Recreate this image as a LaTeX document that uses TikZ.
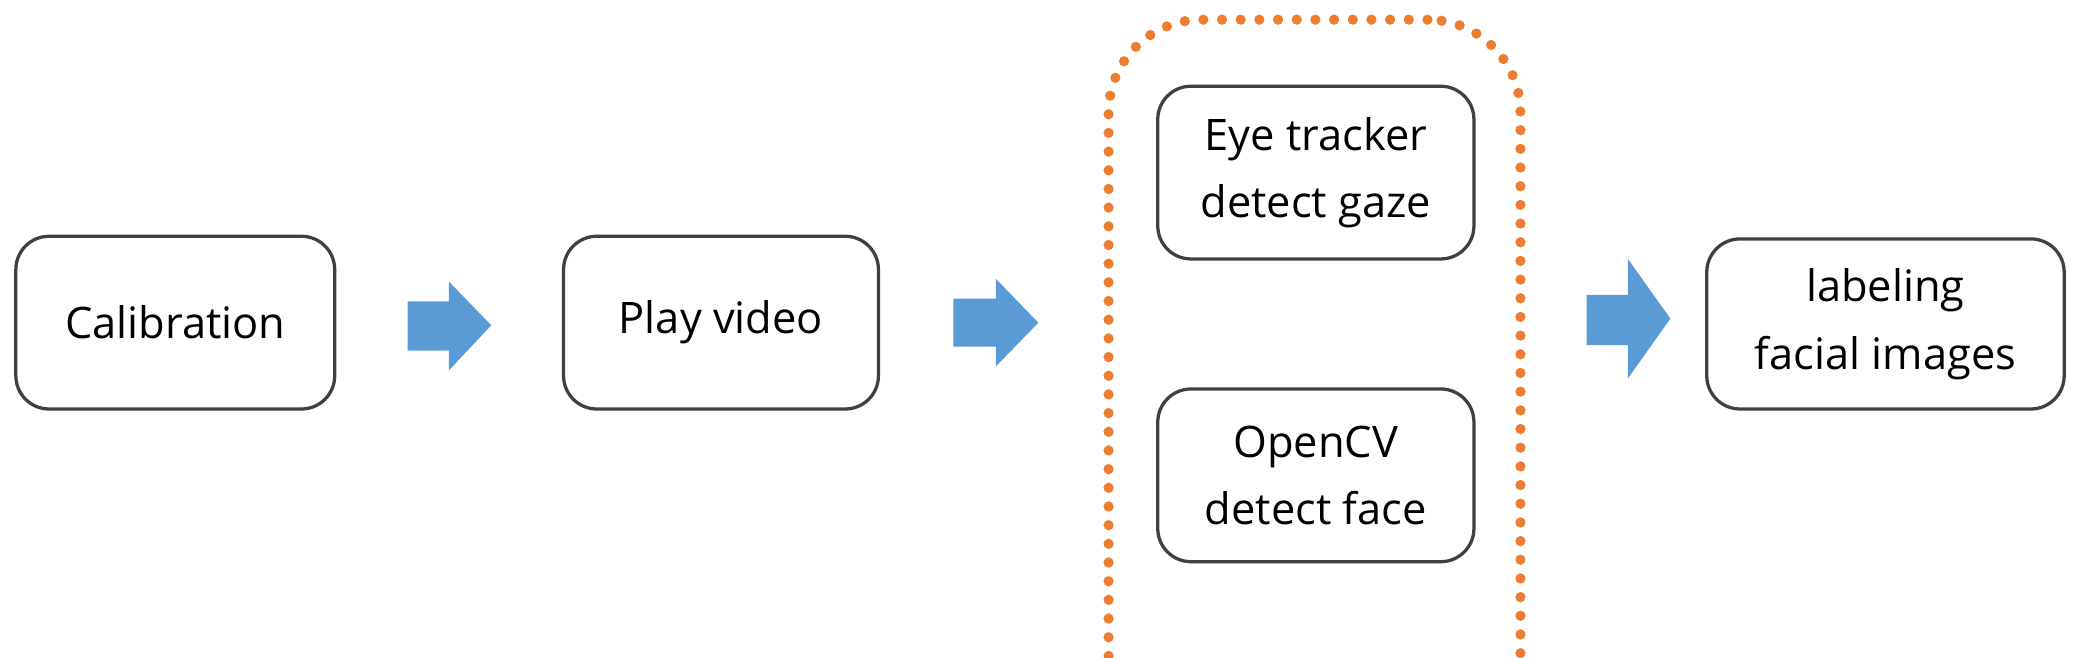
\documentclass[tikz,border=0pt]{standalone}
\usepackage{fontspec}
\setmainfont{Open Sans}
\definecolor{arrowblue}{HTML}{5B9BD5}
\definecolor{dotorange}{HTML}{ED7D31}
\begin{document}
\begin{tikzpicture}[x=0.01cm,y=-0.01cm,
  box/.style={draw=black!75, line width=0.7pt, rounded corners=0.25cm, align=center, font=\fontsize{9.3}{14.5}\selectfont},
  blk/.style={fill=arrowblue, draw=none}]
\useasboundingbox (0,0) rectangle (1568,495);
\node[box, minimum width=2.4cm, minimum height=1.3cm] (cal) at (132,243) {Calibration};
\node[box, minimum width=2.37cm, minimum height=1.3cm] (play) at (543,243) {Play video};
\node[box, minimum width=2.38cm, minimum height=1.3cm] (eye) at (991,130) {Eye tracker\\detect gaze};
\node[box, minimum width=2.38cm, minimum height=1.3cm] (cv) at (991,358) {OpenCV\\detect face};
\node[box, minimum width=2.69cm, minimum height=1.28cm] (lab) at (1420,244) {labeling\\facial images};
\node[draw=dotorange, line width=2.2pt, dash pattern=on 0pt off 4pt, line cap=round, rounded corners=0.7cm, minimum width=3.1cm, minimum height=6.2cm] (grp) at (990,325) {};
\fill[blk] (307,227) -- (338,227) -- (338,212) -- (370,245) -- (338,279) -- (338,264) -- (307,264) -- cycle;
\fill[blk] (718,225) -- (750,225) -- (750,210) -- (782,243) -- (750,276) -- (750,261) -- (718,261) -- cycle;
\fill[blk] (1195,222) -- (1226,222) -- (1226,195) -- (1258,240) -- (1226,285) -- (1226,260) -- (1195,260) -- cycle;
\end{tikzpicture}
\end{document}
